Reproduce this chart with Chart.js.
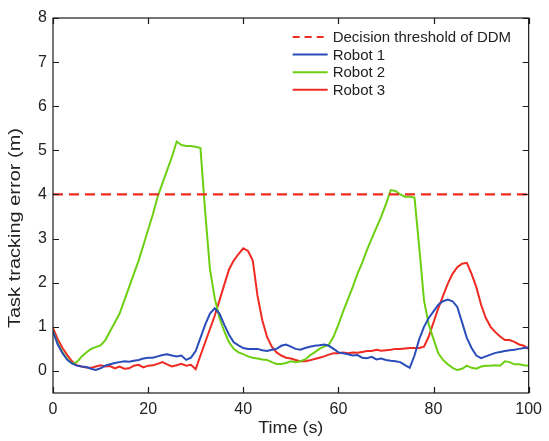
<!DOCTYPE html>
<html>
<head>
<meta charset="utf-8">
<script src="https://cdn.jsdelivr.net/npm/chart.js@4.4.0/dist/chart.umd.min.js"></script>
<style>
  html, body { margin: 0; padding: 0; background: #ffffff; overflow: hidden; }
  #errorChart { display: block; }
</style>
</head>
<body>
<canvas id="errorChart" width="549" height="441"></canvas>
<script>
// Time samples (s)
const time = [
    0, 1, 2, 3, 4, 5, 6, 7, 8, 9,
    10, 11, 12, 13, 14, 15, 16, 17, 18, 19,
    20, 21, 22, 23, 24, 25, 26, 27, 28, 29,
    30, 31, 32, 33, 34, 35, 36, 37, 38, 39,
    40, 41, 42, 43, 44, 45, 46, 47, 48, 49,
    50, 51, 52, 53, 54, 55, 56, 57, 58, 59,
    60, 61, 62, 63, 64, 65, 66, 67, 68, 69,
    70, 71, 72, 73, 74, 75, 76, 77, 78, 79,
    80, 81, 82, 83, 84, 85, 86, 87, 88, 89,
    90, 91, 92, 93, 94, 95, 96, 97, 98, 99, 100
];

// Task tracking error (m)
const robot1 = [
    0.9, 0.6, 0.4, 0.25, 0.17, 0.12, 0.1, 0.09, 0.05, 0.02,
    0.06, 0.12, 0.15, 0.18, 0.2, 0.22, 0.21, 0.23, 0.25, 0.28,
    0.3, 0.3, 0.33, 0.36, 0.38, 0.35, 0.33, 0.35, 0.25, 0.3,
    0.45, 0.75, 1.05, 1.3, 1.42, 1.3, 1.05, 0.82, 0.65, 0.58,
    0.52, 0.5, 0.5, 0.5, 0.47, 0.45, 0.48, 0.5, 0.57, 0.6,
    0.55, 0.5, 0.48, 0.52, 0.55, 0.57, 0.58, 0.6, 0.57, 0.5,
    0.42, 0.4, 0.38, 0.35, 0.36, 0.3, 0.29, 0.32, 0.26, 0.28,
    0.25, 0.23, 0.22, 0.2, 0.13, 0.07, 0.35, 0.72, 1.0, 1.2,
    1.35, 1.5, 1.58, 1.62, 1.58, 1.45, 1.1, 0.75, 0.52, 0.35,
    0.29, 0.33, 0.37, 0.41, 0.43, 0.45, 0.47, 0.48, 0.5, 0.52, 0.53
];

const robot2 = [
    0.9, 0.62, 0.42, 0.27, 0.17, 0.2, 0.32, 0.42, 0.5, 0.54,
    0.58, 0.7, 0.9, 1.1, 1.3, 1.6, 1.9, 2.2, 2.5, 2.85,
    3.2, 3.55, 3.95, 4.25, 4.55, 4.85, 5.2, 5.12, 5.1, 5.1,
    5.08, 5.05, 3.6, 2.3, 1.65, 1.2, 0.9, 0.65, 0.5, 0.42,
    0.38, 0.33, 0.3, 0.28, 0.26, 0.25, 0.2, 0.16, 0.16, 0.18,
    0.22, 0.2, 0.22, 0.26, 0.35, 0.42, 0.5, 0.55, 0.6, 0.78,
    1.05, 1.35, 1.62, 1.9, 2.2, 2.45, 2.74, 3.0, 3.25, 3.5,
    3.78, 4.1, 4.08, 4.0, 3.95, 3.95, 3.93, 2.8, 1.6, 1.05,
    0.72, 0.4, 0.25, 0.15, 0.07, 0.02, 0.05, 0.12, 0.07, 0.05,
    0.1, 0.12, 0.12, 0.13, 0.12, 0.22, 0.2, 0.15, 0.15, 0.13, 0.12
];

const robot3 = [
    0.97, 0.72, 0.52, 0.36, 0.22, 0.13, 0.1, 0.08, 0.07, 0.1,
    0.13, 0.1, 0.11, 0.06, 0.1, 0.05, 0.06, 0.12, 0.14, 0.08,
    0.12, 0.13, 0.16, 0.2, 0.15, 0.1, 0.13, 0.16, 0.12, 0.14,
    0.04, 0.35, 0.65, 0.95, 1.25, 1.6, 1.95, 2.3, 2.5, 2.65,
    2.78, 2.72, 2.5, 1.7, 1.15, 0.77, 0.55, 0.42, 0.35, 0.3,
    0.28, 0.25, 0.22, 0.22, 0.24, 0.27, 0.3, 0.33, 0.37, 0.4,
    0.4, 0.42, 0.4, 0.42, 0.41, 0.43, 0.45, 0.45, 0.48, 0.46,
    0.47, 0.48, 0.5, 0.5, 0.51, 0.52, 0.52, 0.52, 0.55, 0.78,
    1.1, 1.42, 1.7, 1.98, 2.2, 2.35, 2.43, 2.45, 2.2, 1.9,
    1.5, 1.2, 1.0, 0.88, 0.78, 0.7, 0.7, 0.66, 0.6, 0.57, 0.5
];

const threshold = 4;
const xTicks = [0, 20, 40, 60, 80, 100];
const yTicks = [0, 1, 2, 3, 4, 5, 6, 7, 8];

const colors = {
    red: '#ee2b22',
    blue: '#2a4dba',
    green: '#6ccf12',
    axis: '#1a1a1a',
    text: '#222222'
};

const fontFamily = "'Liberation Sans', Arial, Helvetica, sans-serif";

function toPoints(values) {
    return values.map(function(v, i) { return { x: time[i], y: v }; });
}

// MATLAB-style box with inward ticks, legend inside the axes and axis titles
const matlabAxes = {
    id: 'matlabAxes',
    afterDraw: function(chart) {
        const ctx = chart.ctx;
        const area = chart.chartArea;
        const xs = chart.scales.x;
        const ys = chart.scales.y;
        const tick = 6;

        ctx.save();
        ctx.strokeStyle = colors.axis;
        ctx.lineWidth = 1.2;
        ctx.strokeRect(area.left, area.top, area.right - area.left, area.bottom - area.top);
        ctx.beginPath();
        xTicks.forEach(function(v) {
            const px = Math.round(xs.getPixelForValue(v)) + 0.5;
            ctx.moveTo(px, area.bottom); ctx.lineTo(px, area.bottom - tick);
            ctx.moveTo(px, area.top); ctx.lineTo(px, area.top + tick);
        });
        yTicks.forEach(function(v) {
            const py = Math.round(ys.getPixelForValue(v)) + 0.5;
            ctx.moveTo(area.left, py); ctx.lineTo(area.left + tick, py);
            ctx.moveTo(area.right, py); ctx.lineTo(area.right - tick, py);
        });
        ctx.stroke();

        // legend
        ctx.font = '15px ' + fontFamily;
        ctx.textBaseline = 'middle';
        ctx.textAlign = 'left';
        const lx = area.right - 236;
        chart.data.datasets.forEach(function(ds, i) {
            const ly = area.top + 19 + i * 17.6;
            ctx.beginPath();
            ctx.strokeStyle = ds.borderColor;
            ctx.lineWidth = ds.borderWidth;
            ctx.setLineDash(ds.borderDash ? [7, 5] : []);
            ctx.moveTo(lx, ly);
            ctx.lineTo(lx + 35, ly);
            ctx.stroke();
            ctx.setLineDash([]);
            ctx.fillStyle = colors.text;
            ctx.fillText(ds.label, lx + 40, ly + 1);
        });

        // axis titles, stretched like the original figure
        ctx.fillStyle = colors.text;
        ctx.font = '16px ' + fontFamily;
        ctx.textAlign = 'center';
        ctx.textBaseline = 'middle';

        const xTitle = 'Time (s)';
        const xw = ctx.measureText(xTitle).width;
        ctx.save();
        ctx.translate((area.left + area.right) / 2, 429);
        ctx.scale(65 / xw, 1);
        ctx.fillText(xTitle, 0, 0);
        ctx.restore();

        const yTitle = 'Task tracking error (m)';
        const yw = ctx.measureText(yTitle).width;
        ctx.save();
        ctx.translate(16, 228);
        ctx.rotate(-Math.PI / 2);
        ctx.scale(200 / yw, 1);
        ctx.fillText(yTitle, 0, 0);
        ctx.restore();

        ctx.restore();
    }
};

new Chart(document.getElementById('errorChart').getContext('2d'), {
    type: 'line',
    data: {
        datasets: [{
            label: 'Decision threshold of DDM',
            data: [{ x: xTicks[0], y: threshold }, { x: xTicks[xTicks.length - 1], y: threshold }],
            borderColor: colors.red,
            borderWidth: 2.2,
            borderDash: [10, 6],
            pointRadius: 0
        }, {
            label: 'Robot 1',
            data: toPoints(robot1),
            borderColor: colors.blue,
            borderWidth: 2,
            pointRadius: 0
        }, {
            label: 'Robot 2',
            data: toPoints(robot2),
            borderColor: colors.green,
            borderWidth: 2,
            pointRadius: 0
        }, {
            label: 'Robot 3',
            data: toPoints(robot3),
            borderColor: colors.red,
            borderWidth: 2,
            pointRadius: 0
        }]
    },
    options: {
        responsive: false,
        animation: false,
        devicePixelRatio: 1,
        layout: {
            padding: { top: 18, right: 20, left: 0, bottom: 0 }
        },
        plugins: {
            legend: { display: false },
            tooltip: { enabled: false }
        },
        scales: {
            x: {
                type: 'linear',
                min: 0,
                max: 100,
                grid: { display: false, drawTicks: false },
                border: { display: false },
                afterBuildTicks: function(scale) {
                    scale.ticks = xTicks.map(function(v) { return { value: v }; });
                },
                afterFit: function(scale) {
                    scale.height = 48;
                },
                ticks: {
                    padding: 7,
                    maxRotation: 0,
                    color: colors.text,
                    font: { family: fontFamily, size: 16 }
                }
            },
            y: {
                min: -0.5,
                max: 8,
                grid: { display: false, drawTicks: false },
                border: { display: false },
                afterBuildTicks: function(scale) {
                    scale.ticks = yTicks.map(function(v) { return { value: v }; });
                },
                afterFit: function(scale) {
                    scale.width = 53;
                },
                ticks: {
                    padding: 6,
                    color: colors.text,
                    font: { family: fontFamily, size: 16 }
                }
            }
        }
    },
    plugins: [matlabAxes]
});
</script>
</body>
</html>
